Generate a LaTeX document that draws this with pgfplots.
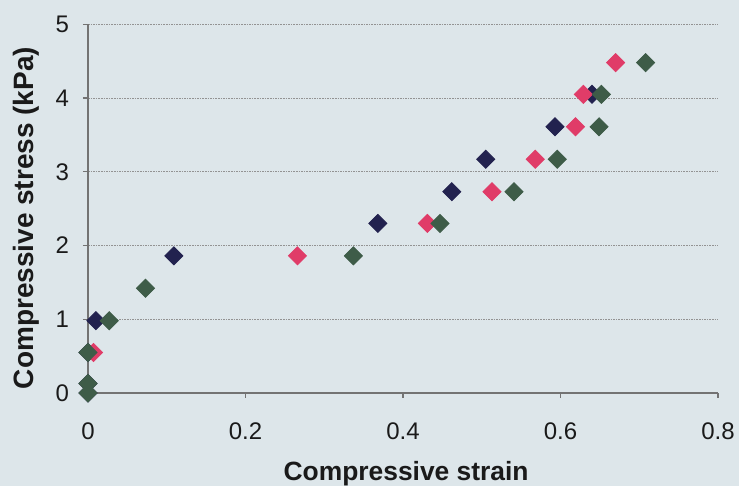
\documentclass[border=0pt]{standalone}
\usepackage{pgfplots}
\pgfplotsset{compat=1.18}
\usepackage{fontspec}
\setmainfont{Liberation Sans}
\definecolor{bg}{HTML}{DDE6EA}
\definecolor{navy}{HTML}{22224F}
\definecolor{pinkc}{HTML}{E03C68}
\definecolor{greenc}{HTML}{3E5C48}
\definecolor{txt}{HTML}{1A1A1A}
\begin{document}
\begin{tikzpicture}
\fill[bg] (-44pt,-46.5pt) rectangle (325.5pt,196.5pt);
\begin{axis}[
  scale only axis,
  width=315pt, height=184.35pt,
  xmin=0, xmax=0.8, ymin=0, ymax=5,
  xtick={0,0.2,0.4,0.6,0.8},
  ytick={0,1,2,3,4,5},
  axis lines=left,
  axis line style={-, draw=gray!90!black, line width=0.6pt},
  tick align=outside,
  major tick length=2.5pt,
  tick style={draw=gray!90!black, line width=0.6pt},
  ymajorgrids,
  grid style={draw=gray!85, line width=0.5pt, dash pattern=on 0.8pt off 0.5pt},
  /pgf/number format/assume math mode=true,
  /pgf/number format/fixed,
  ticklabel style={font=\fontsize{12}{14}\selectfont, text=txt},
  xticklabel style={yshift=-9pt},
  yticklabel style={xshift=-3.5pt},
  xlabel={Compressive strain},
  ylabel={Compressive stress (kPa)},
  label style={text=txt},
  xlabel style={font=\bfseries\fontsize{13.2}{15}\selectfont, at={(axis description cs:0.505,-0.236)}, anchor=base},
  ylabel style={font=\bfseries\fontsize{14}{16}\selectfont, at={(axis description cs:-0.0873,0.4746)}, anchor=base},
  clip=false,
]
\addplot[only marks, mark=square*, mark size=3.2pt, mark options={rotate=45, fill=navy, draw=navy}] coordinates {
(0,0) (0,0.13) (0,0.55) (0.010,0.98) (0.109,1.86) (0.368,2.30) (0.462,2.73) (0.505,3.17) (0.593,3.61) (0.640,4.05)
};
\addplot[only marks, mark=square*, mark size=3.2pt, mark options={rotate=45, fill=pinkc, draw=pinkc}] coordinates {
(0.007,0.55) (0.266,1.86) (0.431,2.30) (0.513,2.73) (0.568,3.17) (0.619,3.61) (0.629,4.05) (0.670,4.48)
};
\addplot[only marks, mark=square*, mark size=3.2pt, mark options={rotate=45, fill=greenc, draw=greenc}] coordinates {
(0,0) (0,0.13) (0,0.55) (0.027,0.98) (0.073,1.42) (0.337,1.86) (0.447,2.30) (0.541,2.73) (0.596,3.17) (0.649,3.61) (0.652,4.05) (0.708,4.48)
};
\end{axis}
\pgfresetboundingbox
\path (-44pt,-46.5pt) rectangle (325.5pt,196.5pt);
\end{tikzpicture}
\end{document}
